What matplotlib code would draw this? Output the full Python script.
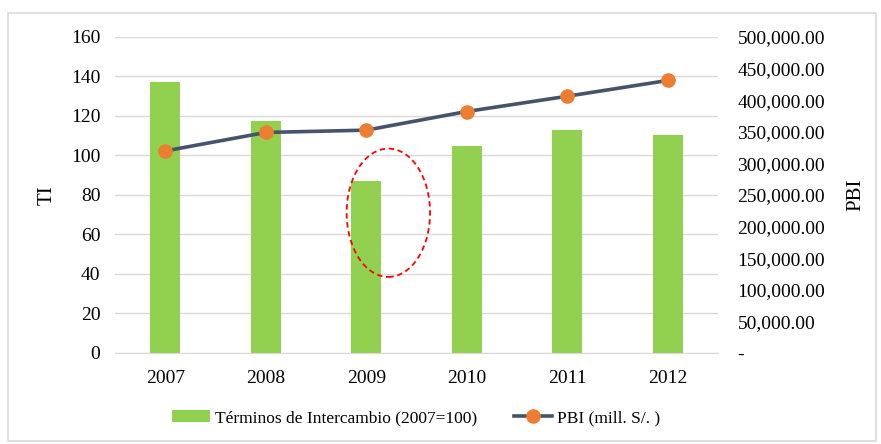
import matplotlib.pyplot as plt
from matplotlib.patches import Ellipse, Rectangle
from matplotlib.ticker import FuncFormatter

plt.rcParams['font.family'] = ['Liberation Serif', 'DejaVu Serif']

years = ['2007', '2008', '2009', '2010', '2011', '2012']
ti = [137.2, 117.6, 87.0, 104.8, 112.9, 110.4]
pbi = [319693, 348923, 352584, 382081, 406256, 431199]

fig = plt.figure(figsize=(8.81, 4.44), dpi=100)
fig.patches.append(Rectangle((0.009, 0.007), 0.985, 0.963, transform=fig.transFigure,
                             fill=False, edgecolor='#d9d9d9', linewidth=1.2))
ax1 = fig.add_axes([0.1305, 0.205, 0.6845, 0.7117])
ax2 = ax1.twinx()

x = list(range(len(years)))
bars = ax1.bar(x, ti, width=0.3, color='#92D050', zorder=2,
               label='Términos de Intercambio (2007=100)')
line, = ax2.plot(x, pbi, color='#44546A', linewidth=2.6, marker='o', markersize=9.5,
                 markerfacecolor='#ED7D31', markeredgecolor='#ED7D31',
                 label='PBI (mill. S/. )', zorder=3)

ax1.set_xlim(-0.5, 5.5)
ax1.set_ylim(0, 160)
ax1.set_yticks(range(0, 161, 20))
ax2.set_ylim(0, 500000)
ax2.set_yticks(range(0, 500001, 50000))
ax2.yaxis.set_major_formatter(FuncFormatter(lambda v, p: '-' if v == 0 else f'{v:,.2f}'))
ax1.set_xticks(x)
ax1.set_xticklabels(years)

ax1.grid(axis='y', color='#d9d9d9', linewidth=1, zorder=0)
ax1.set_axisbelow(True)
for ax in (ax1, ax2):
    for s in ax.spines.values():
        s.set_visible(False)
    ax.tick_params(length=0, labelsize=14, colors='#000000')
ax1.spines['bottom'].set_visible(True)
ax1.spines['bottom'].set_color('#d9d9d9')
ax1.tick_params(axis='y', pad=10.5)
ax1.tick_params(axis='x', pad=12)
ax2.tick_params(axis='y', pad=14)

ax1.set_ylabel('TI', fontsize=15, labelpad=10)
ax2.set_ylabel('PBI', fontsize=15, labelpad=15)

ell = Ellipse((2.22, 71), 0.83, 65, fill=False, edgecolor='#FF0000', linestyle=(0, (3, 2)),
              linewidth=1.3, zorder=5)
ax1.add_patch(ell)

fig.legend([bars, line], [bars.get_label(), line.get_label()], loc='center',
           bbox_to_anchor=(0.4725, 0.058), ncol=2, frameon=False, fontsize=12.5,
           handlelength=2.2, columnspacing=2.1, handletextpad=0.3)

fig.savefig('out.png', dpi=100)
